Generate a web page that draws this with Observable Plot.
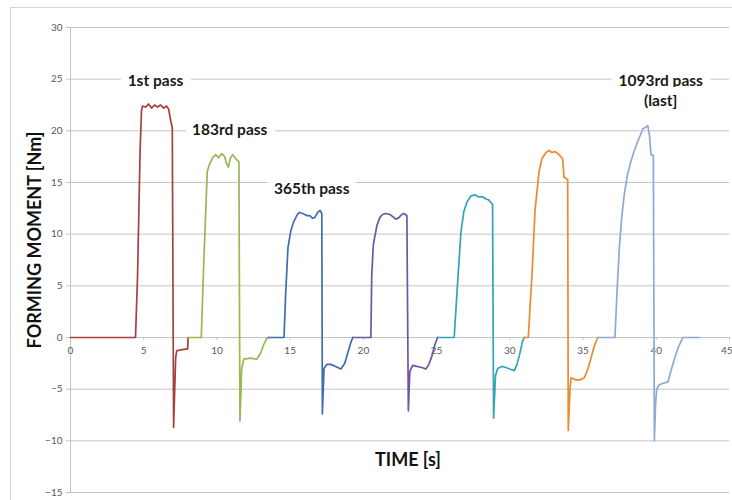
<!DOCTYPE html>
<html>
<head>
<meta charset="utf-8">
<script src="https://cdn.jsdelivr.net/npm/d3@7"></script>
<script src="https://cdn.jsdelivr.net/npm/@observablehq/plot@0.6"></script>
<style>
  html, body { margin: 0; padding: 0; background: #fff; }
  #wrap { position: relative; width: 732px; height: 500px; overflow: hidden; }
  #border { position: absolute; left: 10px; top: 7px; right: -5px; bottom: -5px; border: 1px solid #d4d4d4; pointer-events: none; }
  svg { overflow: visible; }
</style>
</head>
<body>
<div id="wrap"><div id="border"></div></div>
<script>
// ---- data (time in s, moment in Nm) ----
const seriesNames = ["1st", "183rd", "365th", "547th", "729th", "911th", "1093rd"];
const seriesColors = ["#A5413E", "#97B852", "#3E6DB0", "#7255A0", "#35A2B7", "#EB8A2F", "#8FA9D6"];

const pass1T = [0, 4.44, 4.58, 4.75, 4.85, 4.92, 5.13, 5.33, 5.54, 5.74, 5.95, 6.15, 6.36, 6.56, 6.70, 6.84, 6.95, 7.04, 7.18, 7.25, 7.52, 8.00, 8.03];
const pass1M = [0, 0, 6, 18, 22.0, 22.4, 22.3, 22.6, 22.2, 22.5, 22.3, 22.5, 22.2, 22.4, 22.1, 21.0, 20.3, -8.7, -2.0, -1.3, -1.2, -1.1, 0];

const pass2T = [8.03, 8.93, 9.12, 9.34, 9.50, 9.71, 9.91, 10.12, 10.32, 10.53, 10.66, 10.78, 10.90, 11.07, 11.28, 11.50, 11.57, 11.69, 11.83, 12.30, 12.71, 12.99, 13.19, 13.40, 13.53];
const pass2M = [0, 0, 8, 16.1, 16.8, 17.4, 17.7, 17.4, 17.8, 17.5, 16.8, 16.5, 17.3, 17.7, 17.3, 17.0, -8.1, -3.0, -2.1, -2.0, -2.1, -1.5, -0.7, -0.1, 0];

const pass3T = [13.53, 14.58, 14.70, 14.85, 15.04, 15.24, 15.45, 15.61, 15.86, 16.13, 16.34, 16.52, 16.68, 16.88, 17.04, 17.16, 17.20, 17.31, 17.50, 17.77, 18.11, 18.46, 18.73, 18.93, 19.14, 19.28];
const pass3M = [0, 0, 4.5, 8.7, 10.3, 11.2, 11.8, 12.1, 12.0, 11.8, 11.8, 11.55, 11.6, 12.1, 12.3, 12.0, -7.4, -3.0, -2.6, -2.6, -2.8, -3.05, -2.5, -1.5, -0.5, 0];

const pass4T = [19.28, 20.51, 20.57, 20.68, 20.92, 21.12, 21.31, 21.53, 21.81, 22.01, 22.21, 22.42, 22.62, 22.78, 22.97, 23.07, 23.17, 23.36, 23.65, 23.99, 24.27, 24.47, 24.68, 24.88, 25.07];
const pass4M = [0, 0, 6, 9.0, 10.8, 11.6, 11.9, 12.0, 11.9, 11.7, 11.45, 11.6, 11.9, 12.0, 11.8, -7.1, -3.3, -2.7, -2.8, -2.9, -3.05, -2.6, -1.8, -0.7, 0];

const pass5T = [25.07, 26.20, 26.42, 26.66, 26.86, 27.07, 27.34, 27.62, 27.89, 28.16, 28.37, 28.57, 28.82, 28.89, 29.02, 29.17, 29.46, 29.73, 30.08, 30.30, 30.49, 30.69, 30.86, 30.98];
const pass5M = [0, 0, 5, 10.2, 12.2, 13.1, 13.7, 13.8, 13.6, 13.6, 13.4, 13.3, 12.9, -7.8, -3.7, -3.0, -2.8, -2.9, -3.1, -3.2, -2.6, -1.5, -0.4, 0];

const pass6T = [30.98, 31.26, 31.51, 31.72, 31.99, 32.19, 32.47, 32.67, 32.88, 33.08, 33.36, 33.61, 33.70, 33.95, 33.99, 34.11, 34.18, 34.52, 34.79, 35.09, 35.34, 35.54, 35.75, 36.00];
const pass6M = [0, 0, 6, 12.3, 16, 17.3, 17.9, 18.1, 17.9, 18.0, 17.7, 17.3, 15.5, 15.3, -9.0, -5.0, -3.9, -4.1, -4.1, -3.9, -3.0, -2.0, -0.9, 0];

const pass7T = [36.00, 37.18, 37.32, 37.48, 37.63, 37.82, 38.04, 38.28, 38.48, 38.74, 38.89, 39.08, 39.23, 39.42, 39.54, 39.64, 39.80, 39.87, 39.95, 40.03, 40.19, 40.33, 40.53, 40.79, 41.15, 41.49, 41.81, 42.95];
const pass7M = [0, 0, 4.5, 8.7, 11.5, 13.9, 15.8, 17.1, 18.0, 19.0, 19.5, 20.2, 20.3, 20.5, 19.5, 17.7, 17.6, -10.0, -6.5, -5.0, -4.6, -4.5, -4.4, -4.3, -2.5, -1.0, 0, 0];

const xTicks = [0, 5, 10, 15, 20, 25, 30, 35, 40, 45];
const yTicks = [-15, -10, -5, 0, 5, 10, 15, 20, 25, 30];

const labelText = ["1st pass", "183rd pass", "365th pass", "1093rd pass\n(last]"];
const labelT = [5.8, 10.87, 16.47, 40.3];
const labelM = [25.0, 20.2, 14.5, 24.0];

// ---- build table ----
const allT = [pass1T, pass2T, pass3T, pass4T, pass5T, pass6T, pass7T];
const allM = [pass1M, pass2M, pass3M, pass4M, pass5M, pass6M, pass7M];
const rows = [];
allT.forEach((ts, i) => ts.forEach((t, j) => rows.push({series: seriesNames[i], t, m: allM[i][j]})));
const labels = labelText.map((text, i) => ({text, t: labelT[i], m: labelM[i]}));
const innerTicks = xTicks.slice(0, -1);
const lastTick = xTicks.slice(-1);

const font = "Lato, 'Open Sans', sans-serif";
const chart = Plot.plot({
  width: 732,
  height: 500,
  marginLeft: 70,
  marginRight: 3,
  marginTop: 27,
  marginBottom: 8,
  style: {fontFamily: font, background: "transparent", overflow: "visible"},
  x: {domain: [0, 45], axis: null},
  y: {domain: [-15, 30], axis: null},
  color: {domain: seriesNames, range: seriesColors},
  marks: [
    Plot.ruleY(yTicks, {stroke: "#c4c4c4", strokeWidth: 1}),
    Plot.ruleX([0], {stroke: "#c4c4c4", strokeWidth: 1}),
    Plot.axisY(yTicks, {anchor: "left", tickSize: 4, tickPadding: 4, stroke: "#c4c4c4", fill: "#595959", fontSize: 10, label: null}),
    Plot.ruleX(xTicks, {x: d => d, y1: 0, y2: -0.3, stroke: "#c4c4c4"}),
    Plot.text(innerTicks, {x: d => d, y: 0, dy: 13, text: d => String(d), fill: "#595959", fontSize: 10}),
    Plot.text(lastTick, {x: d => d, y: 0, dy: 13, dx: 3, textAnchor: "end", text: d => String(d), fill: "#595959", fontSize: 10}),
    Plot.line(rows, {x: "t", y: "m", z: "series", stroke: "series", strokeWidth: 1.7, curve: "linear"}),
    Plot.text(labels, {x: "t", y: "m", text: "text", fontSize: 15.5, fontWeight: "bold", fill: "#1a1a1a",
      stroke: "white", strokeWidth: 16, lineHeight: 1.3}),
    Plot.text(["FORMING MOMENT [Nm]"], {frameAnchor: "left", textAnchor: "middle", lineAnchor: "middle",
      dx: -35, dy: -20, rotate: -90, fontSize: 18, fontWeight: "bold", fill: "#111"}),
    Plot.text(["TIME [s]"], {frameAnchor: "bottom", lineAnchor: "middle", textAnchor: "middle",
      dx: 8, dy: -32, fontSize: 18, fontWeight: "bold", fill: "#111"})
  ]
});
document.getElementById("wrap").prepend(chart);
</script>
</body>
</html>
